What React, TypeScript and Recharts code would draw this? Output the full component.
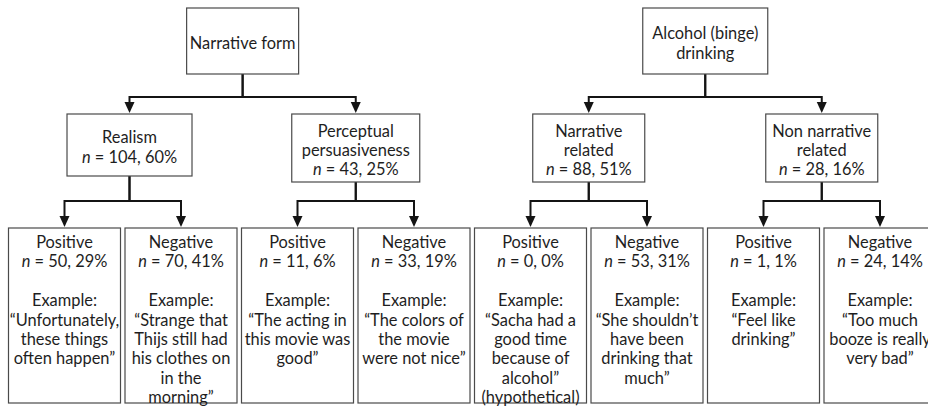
import React from 'react';
import { ScatterChart, Scatter, XAxis, YAxis } from 'recharts';

// tree content
const topLabels = [['Narrative form'], ['Alcohol (binge)', 'drinking']];
const midLabels = [['Realism'], ['Perceptual', 'persuasiveness'], ['Narrative', 'related'], ['Non narrative', 'related']];
const midCounts = [104, 43, 88, 28];
const midPercents = [60, 25, 51, 16];
const leafLabels = ['Positive', 'Negative', 'Positive', 'Negative', 'Positive', 'Negative', 'Positive', 'Negative'];
const leafCounts = [50, 70, 11, 33, 0, 53, 1, 24];
const leafPercents = [29, 41, 6, 19, 0, 31, 1, 14];
const leafExamples = [
  ['\u201cUnfortunately,', 'these things', 'often happen\u201d'],
  ['\u201cStrange that', 'Thijs still had', 'his clothes on', 'in the', 'morning\u201d'],
  ['\u201cThe acting in', 'this movie was', 'good\u201d'],
  ['\u201cThe colors of', 'the movie', 'were not nice\u201d'],
  ['\u201cSacha had a', 'good time', 'because of', 'alcohol\u201d', '(hypothetical)'],
  ['\u201cShe shouldn\u2019t', 'have been', 'drinking that', 'much\u201d'],
  ['\u201cFeel like', 'drinking\u201d'],
  ['\u201cToo much', 'booze is really', 'very bad\u201d'],
];

// layout
const W = 928;
const H = 414;
const PITCH = 116.5; // px between leaf centres
const X0 = -64.5 / PITCH;
const X1 = X0 + W / PITCH;
const levelTop = [8, 114, 228];
const elbowY = [0, 97, 201];
const topWidths = [112, 125];
const midWidths = [125, 128, 112, 112];
const midNudge = [0.058, 0, 0, 0];
const leafWidth = 112;
const topHeight = 66;
const leafHeight = 175;
const LH = 19.4;
const FONT = 'Lato, "Open Sans", sans-serif';
const TEXT = '#1e1e1e';
const LINE = '#141414';

type Seg = { t: string; i?: boolean };

const countLine = (n: number, p: number): Seg[] => [{ t: 'n', i: true }, { t: ` = ${n}, ${p}%` }];

const leafNodes = leafLabels.map((label, i) => ({
  x: i,
  y: levelTop[2],
  w: leafWidth,
  h: leafHeight,
  kind: 'leaf',
  lines: [[{ t: label }], countLine(leafCounts[i], leafPercents[i]), [], [{ t: 'Example:' }], ...leafExamples[i].map((t) => [{ t }])],
}));

const midNodes = midLabels.map((label, i) => ({
  x: (leafNodes[2 * i].x + leafNodes[2 * i + 1].x) / 2 + midNudge[i],
  y: levelTop[1],
  w: midWidths[i],
  h: label.length === 1 ? 62 : 68,
  kind: 'mid',
  lines: [...label.map((t) => [{ t }]), countLine(midCounts[i], midPercents[i])],
}));

const topNodes = topLabels.map((label, i) => ({
  x: (midNodes[2 * i].x + midNodes[2 * i + 1].x) / 2,
  y: levelTop[0],
  w: topWidths[i],
  h: topHeight,
  kind: 'top',
  lines: label.map((t) => [{ t }]),
}));

const nodes = [...topNodes, ...midNodes, ...leafNodes];

const ARROW = 11;
const edge = (parent: any, child: any, level: number) => [
  { x: parent.x, y: parent.y + parent.h },
  { x: parent.x, y: elbowY[level] },
  { x: child.x, y: elbowY[level] },
  { x: child.x, y: child.y - ARROW, tip: true },
];

const edges = [
  ...midNodes.map((m, i) => edge(topNodes[Math.floor(i / 2)], m, 1)),
  ...leafNodes.map((l, i) => edge(midNodes[Math.floor(i / 2)], l, 2)),
];

const NodeBox = (props: any) => {
  const { cx, cy, payload } = props;
  const { w, h, lines, kind } = payload;
  const first = kind === 'leaf' ? cy + 13 : cy + h / 2 + 1 - ((lines.length - 1) * LH) / 2;
  return (
    <g>
      <rect x={cx - w / 2} y={cy} width={w} height={h} fill="#fff" stroke="#4a4a4a" strokeWidth={1.2} />
      {lines.map((segs: Seg[], k: number) => (
        <text
          key={k}
          x={cx}
          y={first + k * LH}
          textAnchor="middle"
          dominantBaseline="central"
          fontFamily={FONT}
          fontSize={16.4}
          fill={TEXT}
        >
          {segs.map((s, j) => (
            <tspan key={j} fontStyle={s.i ? 'italic' : 'normal'}>
              {s.t}
            </tspan>
          ))}
        </text>
      ))}
    </g>
  );
};

const ArrowHead = (props: any) => {
  const { cx, cy, payload } = props;
  if (!payload.tip) return <g />;
  return <path d={`M${cx - 5},${cy - 1} L${cx + 5},${cy - 1} L${cx},${cy + ARROW - 1} Z`} fill={LINE} />;
};

export default function App() {
  return (
    <div style={{ position: 'absolute', left: 0, top: 0, background: '#fff' }}>
      <ScatterChart width={W} height={H} margin={{ top: 0, right: 0, bottom: 0, left: 0 }}>
        <XAxis type="number" dataKey="x" domain={[X0, X1]} hide allowDataOverflow />
        <YAxis type="number" dataKey="y" domain={[0, H]} reversed hide allowDataOverflow />
        {edges.map((pts, i) => (
          <Scatter
            key={`edge-${i}`}
            data={pts}
            line={{ stroke: LINE, strokeWidth: 2 }}
            shape={ArrowHead}
            isAnimationActive={false}
          />
        ))}
        <Scatter data={nodes} shape={NodeBox} isAnimationActive={false} />
      </ScatterChart>
    </div>
  );
}
